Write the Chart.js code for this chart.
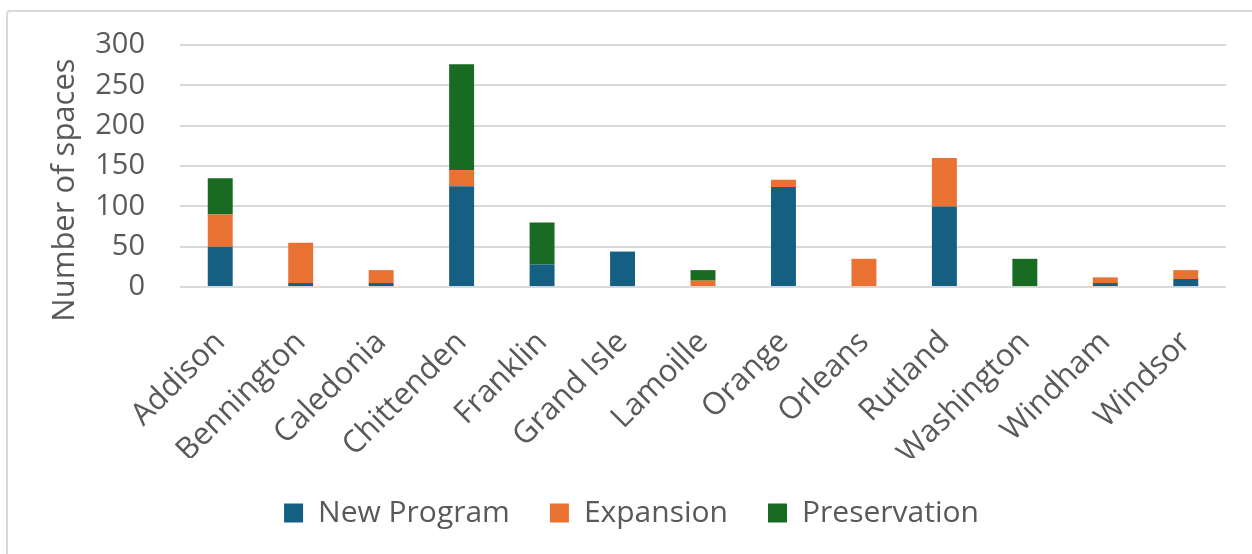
<!DOCTYPE html>
<html>
<head>
<meta charset="utf-8">
<script src="https://cdn.jsdelivr.net/npm/chart.js@4.4.1/dist/chart.umd.min.js"></script>
<style>
  html, body { margin: 0; padding: 0; background: #fff; overflow: hidden; }
  #frame { position: absolute; left: 6px; top: 10px; width: 1270px; height: 570px;
           border: 2px solid #d9d9d9; border-radius: 4px; box-sizing: border-box; }
  #wrap { position: absolute; left: 0; top: 0; width: 1252px; height: 554px; }
</style>
</head>
<body>
<div id="frame"></div>
<div id="wrap"><canvas id="chart"></canvas></div>
<script>
// counties and spaces by funding type
const counties = ['Addison', 'Bennington', 'Caledonia', 'Chittenden', 'Franklin', 'Grand Isle',
  'Lamoille', 'Orange', 'Orleans', 'Rutland', 'Washington', 'Windham', 'Windsor'];
const newProgram   = [50, 5, 5, 125, 28, 44, 0, 124, 0, 100, 0, 5, 10];
const expansion    = [40, 50, 16, 20, 0, 0, 8, 9, 35, 60, 0, 7, 11];
const preservation = [45, 0, 0, 131, 52, 0, 13, 0, 0, 0, 35, 0, 0];
const yTicks = [0, 50, 100, 150, 200, 250, 300];
const yTitle = 'Number of spaces';

const FONT = "'Open Sans', sans-serif";
const GREY = '#595959';

function serie(label, data, color) {
  return { label: label, data: data, backgroundColor: color, borderWidth: 0,
           categoryPercentage: 1, barPercentage: 0.31 };
}

// y title sits a bit lower than the plot middle in the original
const yTitlePlugin = {
  id: 'yTitle',
  afterDraw(chart) {
    const { ctx, chartArea } = chart;
    ctx.save();
    ctx.translate(65, (chartArea.top + chartArea.bottom) / 2 + 24);
    ctx.rotate(-Math.PI / 2);
    ctx.font = '31px ' + FONT;
    ctx.fillStyle = GREY;
    ctx.textAlign = 'center';
    ctx.textBaseline = 'middle';
    ctx.fillText(yTitle, 0, 0);
    ctx.restore();
  }
};

new Chart(document.getElementById('chart'), {
  type: 'bar',
  data: {
    labels: counties,
    datasets: [
      serie('New Program', newProgram, '#156082'),
      serie('Expansion', expansion, '#E97132'),
      serie('Preservation', preservation, '#196B24')
    ]
  },
  plugins: [yTitlePlugin],
  options: {
    responsive: true,
    maintainAspectRatio: false,
    animation: false,
    layout: { padding: { left: 37, right: 26, top: 45, bottom: 16 } },
    plugins: {
      tooltip: { enabled: false },
      legend: {
        position: 'bottom',
        labels: { color: GREY, font: { family: FONT, size: 30 }, boxWidth: 19, boxHeight: 19,
                  padding: 40, useBorderRadius: false }
      }
    },
    scales: {
      x: {
        stacked: true,
        grid: { display: false },
        border: { display: false },
        // padding is counted twice in the height, take the spare room back
        afterFit: s => { s.height -= 43; },
        ticks: { color: GREY, font: { family: FONT, size: 31 }, minRotation: 45, maxRotation: 45, padding: 29 }
      },
      y: {
        stacked: true,
        min: 0, max: 300,
        afterBuildTicks: s => { s.ticks = yTicks.map(v => ({ value: v })); },
        // chart.js counts tick padding twice, fix the axis width by hand
        afterFit: s => { s.width = 143; s.paddingTop = 0; s.paddingBottom = 0; },
        grid: { color: '#d9d9d9', lineWidth: 2, drawTicks: false },
        border: { display: false },
        ticks: { color: GREY, font: { family: FONT, size: 29 }, padding: 35 }
      }
    }
  }
});
</script>
</body>
</html>
